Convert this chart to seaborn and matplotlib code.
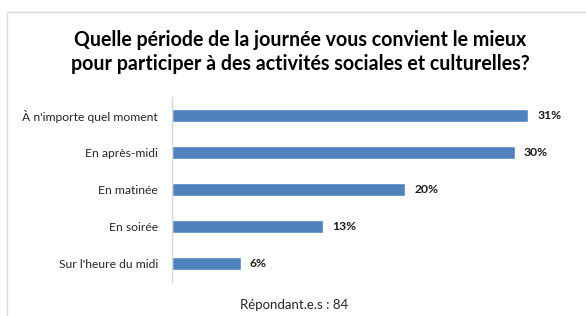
import matplotlib.pyplot as plt
import pandas as pd
import seaborn as sns
from matplotlib.patches import Rectangle

periods = [
    "À n'importe quel moment",
    "En après-midi",
    "En matinée",
    "En soirée",
    "Sur l'heure du midi",
]
counts = [26, 25, 17, 11, 5]
respondents = 84

df = pd.DataFrame({"periode": periods, "n": counts})
df["pct"] = df["n"] / respondents * 100

sns.set_theme(style="white")
plt.rcParams["font.family"] = ["Lato", "DejaVu Sans"]

W, H = 586, 316
fig = plt.figure(figsize=(W / 100, H / 100), dpi=100)

# light frame around the chart area
fig.patches.append(Rectangle((7 / W, -0.1), 1.2, 1 - 12 / H + 0.1, transform=fig.transFigure,
                             fill=False, edgecolor="#d9d9d9", linewidth=1))

ax = fig.add_axes([172 / W, 1 - 282 / H, 403 / W, 185 / H])
sns.barplot(data=df, x="pct", y="periode", orient="h", color="#4F81BD",
            saturation=1, width=0.35, ax=ax)

ax.set_xlim(0, 35)
ax.set_xlabel("")
ax.set_ylabel("")
ax.set_xticks([])
sns.despine(ax=ax, top=True, right=True, bottom=True, left=False)
ax.spines["left"].set_color("#d9d9d9")
ax.spines["left"].set_linewidth(1)
ax.tick_params(axis="y", length=0, pad=10, labelsize=8.7, labelcolor="#262626")

for i, p in enumerate(df["pct"]):
    ax.text(p + 0.8, i, f"{p:.0f}%", va="center", ha="left",
            fontsize=8.7, fontweight="bold", color="#1a1a1a")

fig.text(300 / W, 1 - 52 / H,
         "Quelle période de la journée vous convient le mieux\npour participer à des activités sociales et culturelles?",
         ha="center", va="center", fontsize=14.1, fontweight="bold",
         color="#000000", linespacing=1.25)

fig.text(294 / W, 1 - 305 / H, f"Répondant.e.s : {respondents}",
         ha="center", va="center", fontsize=9.5, color="#262626")

fig.savefig("out.png", dpi=100)
